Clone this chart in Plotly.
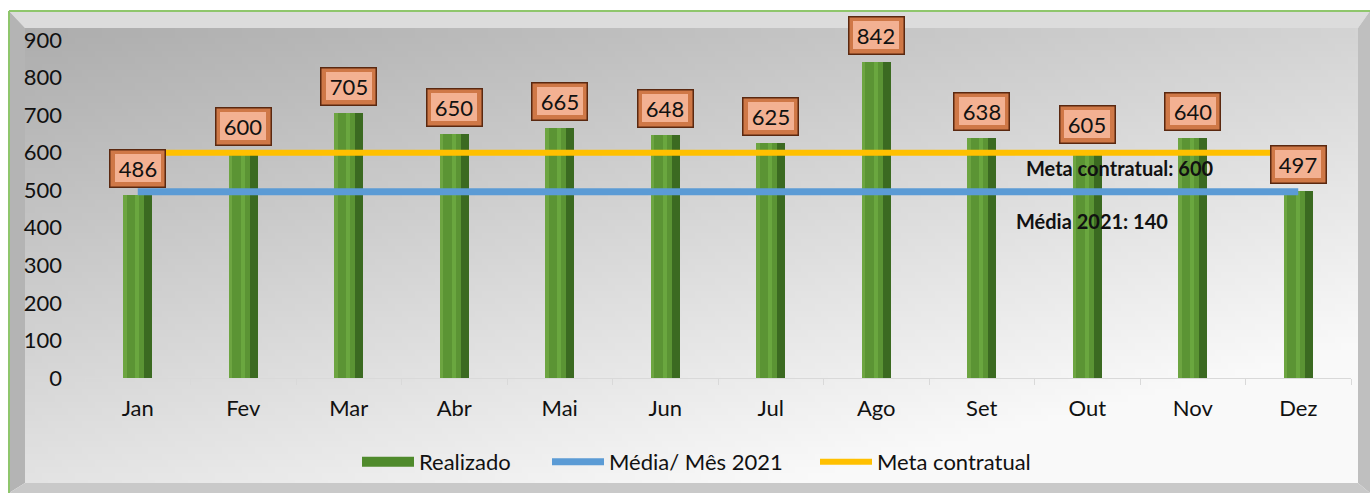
import base64, struct, zlib
import plotly.graph_objects as go

# ---------------- data ----------------
months = ["Jan", "Fev", "Mar", "Abr", "Mai", "Jun", "Jul", "Ago", "Set", "Out", "Nov", "Dez"]
realizado = [486, 600, 705, 650, 665, 648, 625, 842, 638, 605, 640, 497]
media_mes = [496] * 12
meta_contratual = [600] * 12
y_ticks = [0, 100, 200, 300, 400, 500, 600, 700, 800, 900]

W, H = 1370, 493
FONT = "Lato"
TXT = "#111111"


def px(x):
    return x / W


def py(y):
    return 1 - y / H


# ---------------- background gradient (decoration) ----------------
def gray_png(w, h):
    raw = bytearray()
    for j in range(h):
        raw.append(0)
        v = j / (h - 1)
        for i in range(w):
            u = i / (w - 1)
            L = 0.68 + 0.15 * u + 0.21 * v
            L = min(L, 0.975)
            raw.append(int(round(L * 255)))

    def chunk(tag, data):
        c = struct.pack(">I", len(data)) + tag + data
        return c + struct.pack(">I", zlib.crc32(tag + data) & 0xFFFFFFFF)

    png = b"\x89PNG\r\n\x1a\n"
    png += chunk(b"IHDR", struct.pack(">IIBBBBB", w, h, 8, 0, 0, 0, 0))
    png += chunk(b"IDAT", zlib.compress(bytes(raw), 9))
    png += chunk(b"IEND", b"")
    return "data:image/png;base64," + base64.b64encode(png).decode()


bg_src = gray_png(200, 70)

fig = go.Figure()

# ---------------- bars (layered for a bevelled look) ----------------
BW = 0.275
fig.add_trace(go.Bar(x=months, y=realizado, width=BW, marker=dict(color="#3b6a21", line=dict(width=0)),
                     name="Realizado", legendgroup="r", showlegend=False))
fig.add_trace(go.Bar(x=months, y=realizado, width=BW * 0.72, offset=-BW / 2,
                     marker=dict(color="#5b9434", line=dict(width=0)), legendgroup="r",
                     showlegend=False, hoverinfo="skip"))
fig.add_trace(go.Bar(x=months, y=realizado, width=BW * 0.12, offset=-BW / 2,
                     marker=dict(color="#6da541", line=dict(width=0)), legendgroup="r",
                     showlegend=False, hoverinfo="skip"))
fig.add_trace(go.Bar(x=months, y=realizado, width=BW * 0.14, offset=-BW * 0.08,
                     marker=dict(color="#6aa73f", line=dict(width=0)), legendgroup="r",
                     showlegend=False, hoverinfo="skip"))
# legend entry for the bars (wide green swatch)
fig.add_trace(go.Scatter(x=[None], y=[None], mode="lines", name="Realizado", legendgroup="r",
                         line=dict(color="#4f8a2c", width=10), legend="legend"))

# ---------------- lines ----------------
fig.add_trace(go.Scatter(x=months, y=media_mes, mode="lines", name="Média/ Mês 2021",
                         line=dict(color="#5b9bd5", width=7), legend="legend2"))
fig.add_trace(go.Scatter(x=months, y=meta_contratual, mode="lines", name="Meta contratual",
                         line=dict(color="#ffc000", width=6), legend="legend3"))

# ---------------- value boxes ----------------
annotations = []
for m, v in zip(months, realizado):
    annotations.append(dict(
        x=m, y=v, xref="x", yref="y", text=str(v), showarrow=False,
        xanchor="center", yanchor="bottom", yshift=7, width=44, height=26,
        font=dict(family=FONT, size=22, color=TXT),
        bgcolor="#cf7847", bordercolor="#5a2810", borderwidth=1.5, borderpad=5,
    ))
    annotations.append(dict(
        x=m, y=v, xref="x", yref="y", text=str(v), showarrow=False,
        xanchor="center", yanchor="bottom", yshift=13, width=42, height=24,
        font=dict(family=FONT, size=22, color=TXT),
        bgcolor="#f3b192", borderwidth=0, borderpad=2,
    ))

annotations.append(dict(x=px(1120), y=py(168), xref="paper", yref="paper",
                        xanchor="center", yanchor="middle",
                        text="<b>Meta contratual: 600</b>", showarrow=False,
                        font=dict(family=FONT, size=20, color=TXT)))
annotations.append(dict(x=px(1092), y=py(221), xref="paper", yref="paper",
                        xanchor="center", yanchor="middle",
                        text="<b>Média 2021: 140</b>", showarrow=False,
                        font=dict(family=FONT, size=20, color=TXT)))

# ---------------- frame shapes ----------------
def poly(pts, color):
    d = "M " + " L ".join(f"{px(x):.5f},{py(y):.5f}" for x, y in pts) + " Z"
    return dict(type="path", path=d, xref="paper", yref="paper", fillcolor=color,
                line=dict(width=0), layer="below")


shapes = [
    poly([(9, 11), (1370, 11), (1358, 28), (25, 28)], "#dcdcdc"),
    poly([(9, 11), (25, 28), (25, 483), (9, 493)], "#b4b4b4"),
    poly([(1370, 11), (1370, 493), (1358, 483), (1358, 28)], "#bfbfbf"),
    poly([(9, 493), (25, 483), (1358, 483), (1370, 493)], "#c9c9c9"),
    dict(type="line", xref="paper", yref="paper", x0=px(9), x1=px(1370), y0=py(11), y1=py(11),
         line=dict(color="#8fc66c", width=2), layer="below"),
    dict(type="line", xref="paper", yref="paper", x0=px(9), x1=px(9), y0=py(11), y1=py(493),
         line=dict(color="#8fc66c", width=2), layer="below"),
]

leg_common = dict(orientation="h", yanchor="middle", xanchor="left", y=py(462),
                  font=dict(family=FONT, size=22, color=TXT), bgcolor="rgba(0,0,0,0)",
                  itemwidth=52, borderwidth=0)

fig.update_layout(
    width=W, height=H,
    margin=dict(l=0, r=0, t=0, b=0, pad=0, autoexpand=False),
    paper_bgcolor="white",
    plot_bgcolor="rgba(0,0,0,0)",
    barmode="overlay",
    bargap=0,
    font=dict(family=FONT, size=22, color=TXT),
    images=[dict(source=bg_src, xref="paper", yref="paper", x=px(25), y=py(28),
                 sizex=(1358 - 25) / W, sizey=(483 - 28) / H, sizing="stretch",
                 xanchor="left", yanchor="top", layer="below")],
    shapes=shapes,
    annotations=annotations,
    xaxis=dict(domain=[px(85), px(1351)], showgrid=False, zeroline=False, automargin=False,
               showline=True, linecolor="#d9d9d9", linewidth=1,
               ticks="outside", tickson="boundaries", ticklen=6, tickcolor="#d9d9d9",
               ticklabelstandoff=11, tickfont=dict(family=FONT, size=22, color=TXT)),
    yaxis=dict(domain=[py(378), py(40)], range=[0, 900], tickvals=y_ticks, automargin=False,
               showgrid=False, zeroline=False, showline=False, ticks="",
               ticklabelstandoff=22, tickfont=dict(family=FONT, size=22, color=TXT)),
    legend=dict(x=px(357), **leg_common),
    legend2=dict(x=px(547), **leg_common),
    legend3=dict(x=px(815), **leg_common),
    showlegend=True,
)

fig.write_html("out.html", config={"displayModeBar": False},
               post_script="document.body.style.margin='0px';")
